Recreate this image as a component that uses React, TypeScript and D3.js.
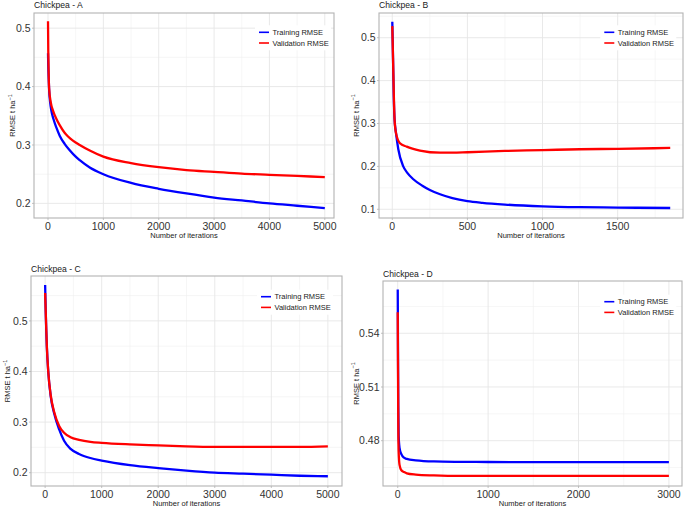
import React from "react";
import * as d3 from "d3";

// ---------- data (iteration, RMSE) ----------
const seriesNames = ["Training RMSE", "Validation RMSE"];
const seriesColors = ["#0000ff", "#ff0000"];

const trainA: [number, number][] = [
  [0, 0.457], [5, 0.435], [10, 0.42], [20, 0.395], [40, 0.372], [60, 0.359], [100, 0.344],
  [150, 0.33], [211, 0.316], [300, 0.302], [392, 0.291], [500, 0.28], [573, 0.274],
  [754, 0.2615], [1000, 0.25], [1500, 0.235], [2000, 0.225], [2500, 0.217], [3000, 0.21],
  [3500, 0.205], [4000, 0.2], [4500, 0.196], [5000, 0.192],
];
const validA: [number, number][] = [
  [0, 0.512], [5, 0.46], [10, 0.43], [20, 0.397], [50, 0.373], [90, 0.359], [150, 0.345],
  [211, 0.334], [300, 0.321], [362, 0.3145], [450, 0.3075], [573, 0.3], [754, 0.2905],
  [1000, 0.28], [1500, 0.269], [2000, 0.262], [2500, 0.257], [3000, 0.254], [3500, 0.251],
  [4000, 0.249], [4500, 0.247], [5000, 0.245],
];

const trainB: [number, number][] = [
  [0, 0.537], [5, 0.45], [10, 0.36], [15, 0.31], [25, 0.277], [40, 0.24], [73, 0.2],
  [100, 0.185], [140, 0.17], [200, 0.155], [250, 0.145], [318, 0.135], [400, 0.126],
  [500, 0.119], [600, 0.115], [750, 0.111], [1000, 0.107], [1250, 0.105], [1500, 0.104],
  [1850, 0.103],
];
const validB: [number, number][] = [
  [0, 0.527], [5, 0.45], [10, 0.37], [15, 0.31], [25, 0.277], [51, 0.254], [96, 0.246],
  [184, 0.237], [318, 0.232], [400, 0.232], [500, 0.233], [750, 0.236], [1000, 0.238],
  [1250, 0.24], [1500, 0.241], [1850, 0.243],
];

const trainC: [number, number][] = [
  [0, 0.571], [10, 0.52], [30, 0.45], [55, 0.4], [100, 0.35], [160, 0.317], [250, 0.285],
  [335, 0.263], [450, 0.247], [600, 0.237], [800, 0.229], [1000, 0.224], [1500, 0.215],
  [2000, 0.209], [2500, 0.204], [3000, 0.2], [3500, 0.198], [4000, 0.196], [4500, 0.194],
  [5000, 0.193],
];
const validC: [number, number][] = [
  [0, 0.555], [10, 0.52], [30, 0.45], [55, 0.4], [100, 0.352], [160, 0.32], [250, 0.292],
  [335, 0.279], [450, 0.27], [600, 0.265], [800, 0.261], [1000, 0.259], [1500, 0.256],
  [2000, 0.254], [2500, 0.252], [3000, 0.251], [3500, 0.251], [4000, 0.251], [4500, 0.251],
  [5000, 0.252],
];

const trainD: [number, number][] = [
  [0, 0.5645], [3, 0.53], [6, 0.5], [10, 0.483], [20, 0.476], [40, 0.4725], [70, 0.4705],
  [100, 0.4698], [200, 0.469], [400, 0.4684], [700, 0.4682], [1000, 0.4681], [1500, 0.468],
  [2000, 0.468], [2500, 0.468], [3000, 0.468],
];
const validD: [number, number][] = [
  [0, 0.5517], [3, 0.52], [6, 0.49], [10, 0.474], [20, 0.4665], [40, 0.4635], [70, 0.4625],
  [100, 0.4618], [200, 0.4611], [400, 0.4606], [700, 0.4603], [1000, 0.4603], [1500, 0.4603],
  [2000, 0.4603], [2500, 0.4603], [3000, 0.4603],
];

// ---------- ticks ----------
const xTicksA = [0, 1000, 2000, 3000, 4000, 5000];
const yTicksA = [0.2, 0.3, 0.4, 0.5];
const yLabelsA = ["0.2", "0.3", "0.4", "0.5"];
const xTicksB = [0, 500, 1000, 1500];
const yTicksB = [0.1, 0.2, 0.3, 0.4, 0.5];
const yLabelsB = ["0.1", "0.2", "0.3", "0.4", "0.5"];
const xTicksC = [0, 1000, 2000, 3000, 4000, 5000];
const yTicksC = [0.2, 0.3, 0.4, 0.5];
const yLabelsC = ["0.2", "0.3", "0.4", "0.5"];
const xTicksD = [0, 1000, 2000, 3000];
const yTicksD = [0.48, 0.51, 0.54];
const yLabelsD = ["0.48", "0.51", "0.54"];

const titles = ["Chickpea - A", "Chickpea - B", "Chickpea - C", "Chickpea - D"];
const xAxisTitle = "Number of iterations";

// ---------- layout ----------
type Panel = {
  title: string;
  box: { x0: number; x1: number; y0: number; y1: number };
  xDomain: [number, number];
  yDomain: [number, number];
  xTicks: number[];
  yTicks: number[];
  yLabels: string[];
  series: [number, number][][];
  titleY: number;
  xTitleY: number;
  yTitleX: number;
  legend: { x: number; y: number };
};

const panels: Panel[] = [
  {
    title: titles[0], box: { x0: 34, x1: 334, y0: 13, y1: 218 },
    xDomain: [-253, 5166], yDomain: [0.175, 0.526],
    xTicks: xTicksA, yTicks: yTicksA, yLabels: yLabelsA, series: [trainA, validA],
    titleY: 8, xTitleY: 237.5, yTitleX: 15, legend: { x: 259, y: 32.3 },
  },
  {
    title: titles[1], box: { x0: 379, x1: 683, y0: 13, y1: 218 },
    xDomain: [-88.5, 1935], yDomain: [0.0797, 0.5576],
    xTicks: xTicksB, yTicks: yTicksB, yLabels: yLabelsB, series: [trainB, validB],
    titleY: 8, xTitleY: 237.5, yTitleX: 358.5, legend: { x: 604.3, y: 32.3 },
  },
  {
    title: titles[2], box: { x0: 31, x1: 342, y0: 276, y1: 486 },
    xDomain: [-250, 5250], yDomain: [0.1737, 0.5887],
    xTicks: xTicksC, yTicks: yTicksC, yLabels: yLabelsC, series: [trainC, validC],
    titleY: 272, xTitleY: 506, yTitleX: 10, legend: { x: 261, y: 296.7 },
  },
  {
    title: titles[3], box: { x0: 383, x1: 682, y0: 281, y1: 486 },
    xDomain: [-163, 3145], yDomain: [0.4547, 0.5692],
    xTicks: xTicksD, yTicks: yTicksD, yLabels: yLabelsD, series: [trainD, validD],
    titleY: 277, xTitleY: 506, yTitleX: 358.5, legend: { x: 604.3, y: 301.7 },
  },
];

const FONT = "'Liberation Sans', Arial, sans-serif";

function minorTicks(major: number[], domain: [number, number]) {
  const step = major[1] - major[0];
  const ext = [major[0] - step, ...major, major[major.length - 1] + step];
  const out: number[] = [];
  for (let i = 0; i < ext.length - 1; i++) {
    const m = (ext[i] + ext[i + 1]) / 2;
    if (m > domain[0] && m < domain[1]) out.push(m);
  }
  return out;
}

function PanelView({ p }: { p: Panel }) {
  const { x0, x1, y0, y1 } = p.box;
  const x = d3.scaleLinear().domain(p.xDomain).range([x0, x1]);
  const y = d3.scaleLinear().domain(p.yDomain).range([y1, y0]);
  const line = d3
    .line<[number, number]>()
    .x((d) => x(d[0]))
    .y((d) => y(d[1]))
    .curve(d3.curveMonotoneX);
  const xMinor = minorTicks(p.xTicks, p.xDomain);
  const yMinor = minorTicks(p.yTicks, p.yDomain);
  const cy = (y0 + y1) / 2;
  const cx = (x0 + x1) / 2;
  const lg = p.legend;
  return (
    <g>
      <rect x={x0} y={y0} width={x1 - x0} height={y1 - y0} fill="#fff" />
      {xMinor.map((t) => (
        <line key={"xm" + t} x1={x(t)} x2={x(t)} y1={y0} y2={y1} stroke="#f0f0f0" strokeWidth={0.6} />
      ))}
      {yMinor.map((t) => (
        <line key={"ym" + t} x1={x0} x2={x1} y1={y(t)} y2={y(t)} stroke="#f0f0f0" strokeWidth={0.6} />
      ))}
      {p.xTicks.map((t) => (
        <line key={"xg" + t} x1={x(t)} x2={x(t)} y1={y0} y2={y1} stroke="#e6e6e6" strokeWidth={0.9} />
      ))}
      {p.yTicks.map((t) => (
        <line key={"yg" + t} x1={x0} x2={x1} y1={y(t)} y2={y(t)} stroke="#e6e6e6" strokeWidth={0.9} />
      ))}
      {/* legend background */}
      <rect x={lg.x - 4} y={lg.y - 7} width={76} height={25} fill="#fff" />
      {p.series.map((s, i) => (
        <path key={"s" + i} d={line(s) || ""} fill="none" stroke={seriesColors[i]} strokeWidth={2.3}
          strokeLinejoin="round" strokeLinecap="butt" />
      ))}
      <rect x={x0} y={y0} width={x1 - x0} height={y1 - y0} fill="none" stroke="#b3b3b3" strokeWidth={1.1} />
      {/* ticks */}
      {p.xTicks.map((t) => (
        <g key={"xt" + t}>
          <line x1={x(t)} x2={x(t)} y1={y1} y2={y1 + 2} stroke="#b3b3b3" strokeWidth={0.8} />
          <text x={x(t)} y={y1 + 12} textAnchor="middle" fontFamily={FONT} fontSize={10.5} fill="#333">
            {d3.format("d")(t)}
          </text>
        </g>
      ))}
      {p.yTicks.map((t, i) => (
        <g key={"yt" + t}>
          <line x1={x0 - 2} x2={x0} y1={y(t)} y2={y(t)} stroke="#b3b3b3" strokeWidth={0.8} />
          <text x={x0 - 3.5} y={y(t)} dy="0.36em" textAnchor="end" fontFamily={FONT} fontSize={10.5} fill="#333">
            {p.yLabels[i]}
          </text>
        </g>
      ))}
      {/* titles */}
      <text x={x0} y={p.titleY} fontFamily={FONT} fontSize={8.6} fill="#1a1a1a">{p.title}</text>
      <text x={cx} y={p.xTitleY} textAnchor="middle" fontFamily={FONT} fontSize={7.5} fill="#1a1a1a">
        {xAxisTitle}
      </text>
      <text transform={`translate(${p.yTitleX},${cy}) rotate(-90)`} textAnchor="middle" fontFamily={FONT}
        fontSize={7.5} fill="#1a1a1a">
        RMSE t ha<tspan fontSize={5.5} dy={-3.5}>−1</tspan>
      </text>
      {/* legend */}
      {seriesNames.map((n, i) => (
        <g key={"lg" + i}>
          <line x1={lg.x} x2={lg.x + 10} y1={lg.y + i * 10.7} y2={lg.y + i * 10.7} stroke={seriesColors[i]} strokeWidth={1.6} />
          <text x={lg.x + 13.5} y={lg.y + i * 10.7} dy="0.35em" fontFamily={FONT} fontSize={7.5} fill="#1a1a1a">
            {n}
          </text>
        </g>
      ))}
    </g>
  );
}

export default function App() {
  return (
    <svg width={685} height={508} style={{ position: "absolute", left: 0, top: 0, background: "#fff" }}>
      <rect x={0} y={0} width={685} height={508} fill="#fff" />
      {panels.map((p, i) => (
        <PanelView key={i} p={p} />
      ))}
    </svg>
  );
}
